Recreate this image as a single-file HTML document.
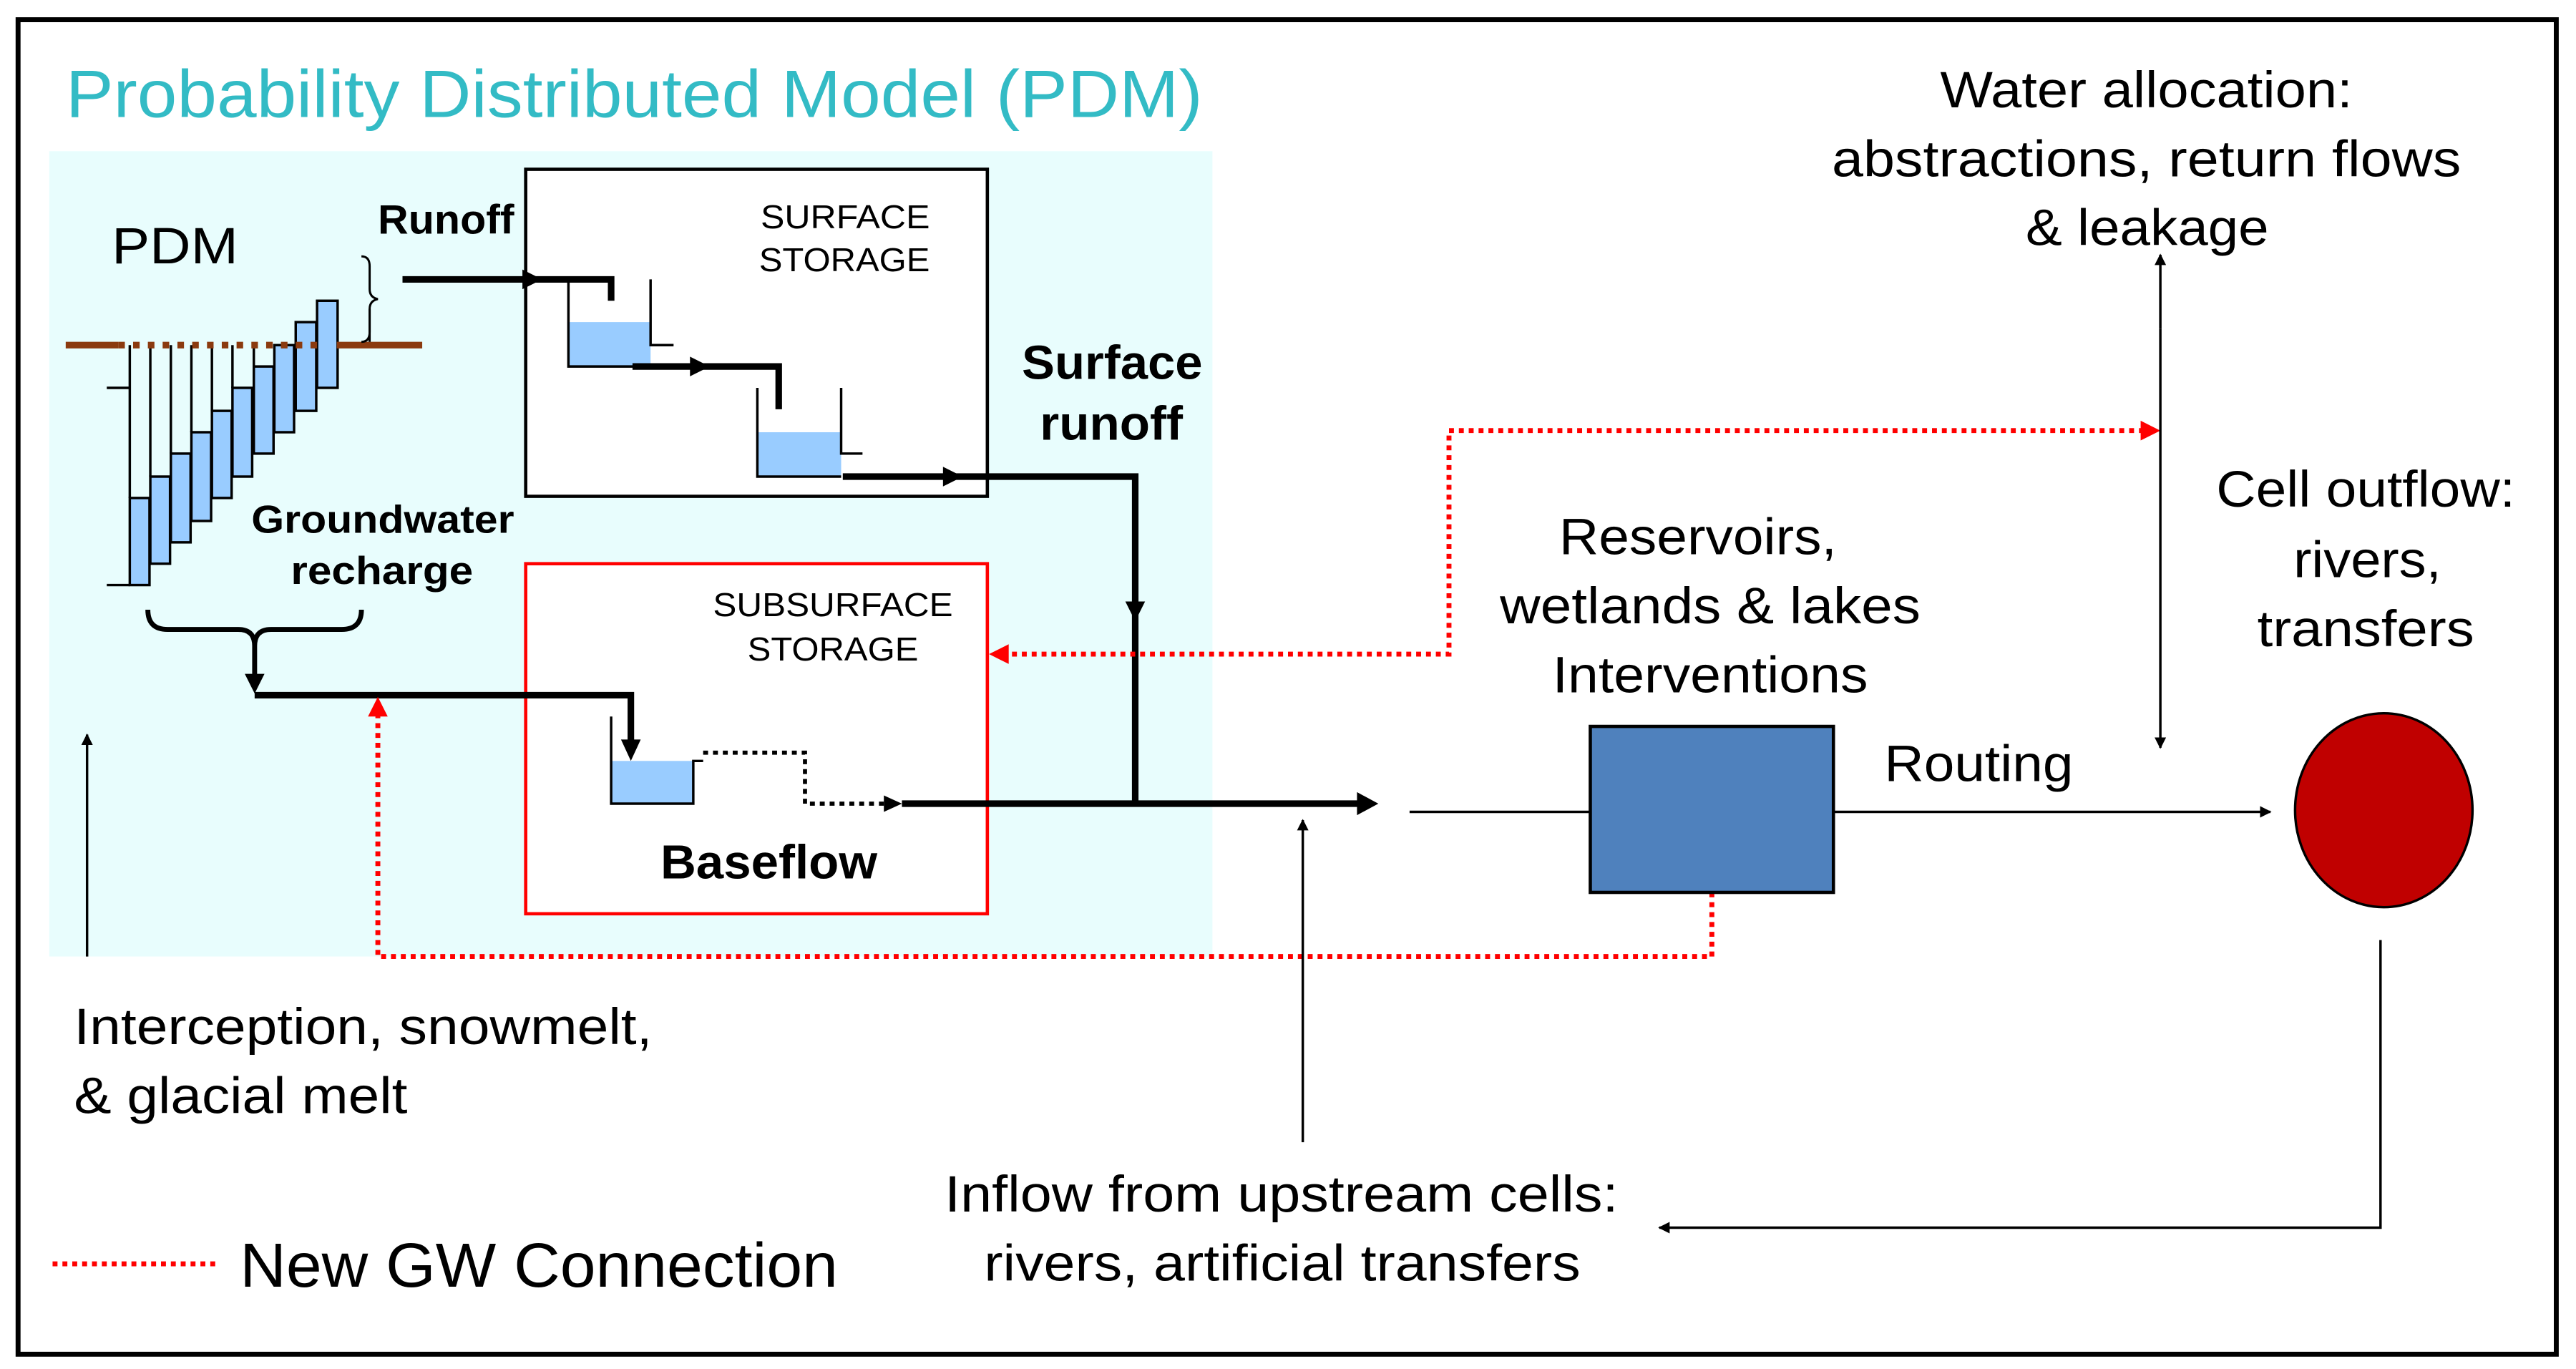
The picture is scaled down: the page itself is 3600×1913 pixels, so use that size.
<!DOCTYPE html>
<html><head><meta charset="utf-8"><style>
html,body{margin:0;padding:0;background:#fff;}
svg{display:block;}
text{font-family:"Liberation Sans",Arial,sans-serif;dominant-baseline:central;}
</style></head><body>
<svg width="3600" height="1913" viewBox="0 0 1568 833" preserveAspectRatio="none" xmlns="http://www.w3.org/2000/svg">
<defs>
<marker id="t" viewBox="0 0 10 10" refX="9" refY="5" markerWidth="9" markerHeight="7" orient="auto" markerUnits="userSpaceOnUse"><path d="M0,0L10,5L0,10z" fill="#000"/></marker>
</defs>
<rect x="0" y="0" width="1568" height="833" fill="#fff"/>
<rect x="11" y="12" width="1545" height="812" fill="#fff" stroke="#000" stroke-width="3"/>
<rect x="30" y="92" width="708" height="490" fill="#E8FDFD"/>
<text x="40" y="57" font-size="41" fill="#33BBC5" textLength="692" lengthAdjust="spacingAndGlyphs">Probability Distributed Model (PDM)</text>
<text x="68" y="150" font-size="31" fill="#000" textLength="77" lengthAdjust="spacingAndGlyphs">PDM</text>
<rect x="320" y="103" width="281" height="199" fill="#fff" stroke="#000" stroke-width="2"/>
<text x="463" y="132" font-size="20" textLength="103" lengthAdjust="spacingAndGlyphs">SURFACE</text>
<text x="462" y="158" font-size="20" textLength="104" lengthAdjust="spacingAndGlyphs">STORAGE</text>
<rect x="320" y="343" width="281" height="213" fill="#fff" stroke="#f00" stroke-width="2"/>
<text x="434" y="368" font-size="20" textLength="146" lengthAdjust="spacingAndGlyphs">SUBSURFACE</text>
<text x="455" y="395" font-size="20" textLength="104" lengthAdjust="spacingAndGlyphs">STORAGE</text>
<g fill="#99CCFF" stroke="#000" stroke-width="1.5">
<rect x="79" y="303" width="12" height="53"/>
<rect x="91.5" y="290" width="12" height="53"/>
<rect x="104" y="276" width="12" height="54"/>
<rect x="116.5" y="263" width="12" height="54"/>
<rect x="129" y="250" width="12" height="53"/>
<rect x="141.5" y="236" width="12" height="54"/>
<rect x="154.5" y="223" width="12" height="53"/>
<rect x="167" y="210" width="12" height="53"/>
<rect x="180" y="196" width="12.5" height="54"/>
<rect x="193" y="183" width="12.5" height="53"/>
</g>
<g stroke="#000" stroke-width="1.5">
<line x1="79" y1="210" x2="79" y2="303"/><line x1="91.5" y1="210" x2="91.5" y2="290"/>
<line x1="104" y1="210" x2="104" y2="276"/><line x1="116.5" y1="210" x2="116.5" y2="263"/>
<line x1="129" y1="210" x2="129" y2="250"/><line x1="141.5" y1="210" x2="141.5" y2="236"/>
<line x1="154.5" y1="210" x2="154.5" y2="223"/>
<line x1="65" y1="236" x2="79" y2="236"/><line x1="65" y1="356" x2="79" y2="356"/>
</g>
<line x1="40" y1="210" x2="72" y2="210" stroke="#8B3A0F" stroke-width="4"/>
<line x1="72" y1="210" x2="195" y2="210" stroke="#8B3A0F" stroke-width="4" stroke-dasharray="4 5"/>
<line x1="205" y1="210" x2="257" y2="210" stroke="#8B3A0F" stroke-width="4"/>
<path d="M220,156 q5,0 5,6 v14 q0,5 5,6 q-5,1 -5,6 v14 q0,6 -5,6" fill="none" stroke="#000" stroke-width="1.3"/>
<line x1="225" y1="188" x2="225" y2="208" stroke="#000" stroke-width="1.3"/>
<text x="230" y="134" font-size="25" font-weight="bold" textLength="83" lengthAdjust="spacingAndGlyphs">Runoff</text>
<path d="M245,170 H372 V183" fill="none" stroke="#000" stroke-width="4"/>
<path d="M318,164 L330,170 L318,176z"/>
<rect x="346" y="196" width="50" height="27" fill="#99CCFF"/>
<path d="M346,170 V223 H396" fill="none" stroke="#000" stroke-width="1.5"/>
<path d="M396,170 V210 H410" fill="none" stroke="#000" stroke-width="1.5"/>
<path d="M385,223 H474 V249" fill="none" stroke="#000" stroke-width="4"/>
<path d="M420,217 L432,223 L420,229z"/>
<rect x="461" y="263" width="51" height="27" fill="#99CCFF"/>
<path d="M461,236 V290 H512" fill="none" stroke="#000" stroke-width="1.5"/>
<path d="M512,236 V276 H525" fill="none" stroke="#000" stroke-width="1.5"/>
<path d="M513,290 H691 V489" fill="none" stroke="#000" stroke-width="4"/>
<path d="M574,284 L586,290 L574,296z"/>
<path d="M685,366 L691,378 L697,366z"/>
<text x="622" y="221" font-size="29" font-weight="bold" textLength="110" lengthAdjust="spacingAndGlyphs">Surface</text>
<text x="633" y="258" font-size="29" font-weight="bold" textLength="87" lengthAdjust="spacingAndGlyphs">runoff</text>
<text x="153" y="316" font-size="24" font-weight="bold" textLength="160" lengthAdjust="spacingAndGlyphs">Groundwater</text>
<text x="177" y="347" font-size="24" font-weight="bold" textLength="111" lengthAdjust="spacingAndGlyphs">recharge</text>
<path d="M90,371 q0,12 12,12 H145 q10,0 10,10 q0,-10 10,-10 H208 q12,0 12,-12" fill="none" stroke="#000" stroke-width="3"/>
<line x1="155" y1="393" x2="155" y2="412" stroke="#000" stroke-width="3"/>
<path d="M149,410 L155,422 L161,410z"/>
<path d="M155,423 H384 V455" fill="none" stroke="#000" stroke-width="4"/>
<path d="M378,450 L384,463 L390,450z"/>
<rect x="372" y="463" width="50" height="26" fill="#99CCFF"/>
<path d="M372,436 V489 H422 V463 H428" fill="none" stroke="#000" stroke-width="1.5"/>
<path d="M428,458 H490 V489 H540" fill="none" stroke="#000" stroke-width="2.5" stroke-dasharray="3 3"/>
<path d="M538,484 L549,489 L538,494z"/>
<path d="M549,489 H828" fill="none" stroke="#000" stroke-width="4"/>
<path d="M826,482 L839,489 L826,496z"/>
<text x="402" y="525" font-size="29" font-weight="bold" textLength="132" lengthAdjust="spacingAndGlyphs">Baseflow</text>
<path d="M1042,543 V582 H230 V432" fill="none" stroke="#f00" stroke-width="3" stroke-dasharray="3 3"/>
<path d="M224,436 L230,424 L236,436z" fill="#f00"/>
<path d="M1305,262 H882 V398 H612" fill="none" stroke="#f00" stroke-width="3" stroke-dasharray="3 3"/>
<path d="M1303,256 L1315,262 L1303,268z" fill="#f00"/>
<path d="M614,392 L602,398 L614,404z" fill="#f00"/>
<line x1="53" y1="582" x2="53" y2="447" stroke="#000" stroke-width="1.5" marker-end="url(#t)"/>
<text x="45" y="625" font-size="31" textLength="352" lengthAdjust="spacingAndGlyphs">Interception, snowmelt,</text>
<text x="45" y="667" font-size="31" textLength="203" lengthAdjust="spacingAndGlyphs">&amp; glacial melt</text>
<line x1="32" y1="769" x2="133" y2="769" stroke="#f00" stroke-width="3" stroke-dasharray="3 3"/>
<text x="146" y="770" font-size="38" textLength="364" lengthAdjust="spacingAndGlyphs">New GW Connection</text>
<line x1="793" y1="695" x2="793" y2="499" stroke="#000" stroke-width="1.5" marker-end="url(#t)"/>
<text x="575" y="727" font-size="31" textLength="410" lengthAdjust="spacingAndGlyphs">Inflow from upstream cells:</text>
<text x="599" y="769" font-size="31" textLength="363" lengthAdjust="spacingAndGlyphs">rivers, artificial transfers</text>
<line x1="858" y1="494" x2="968" y2="494" stroke="#000" stroke-width="1.5"/>
<rect x="968" y="442" width="148" height="101" fill="#4F81BD" stroke="#000" stroke-width="2"/>
<line x1="1116" y1="494" x2="1382" y2="494" stroke="#000" stroke-width="1.5" marker-end="url(#t)"/>
<text x="1147" y="465" font-size="31" textLength="115" lengthAdjust="spacingAndGlyphs">Routing</text>
<text x="949" y="327" font-size="31" textLength="169" lengthAdjust="spacingAndGlyphs">Reservoirs,</text>
<text x="913" y="369" font-size="31" textLength="256" lengthAdjust="spacingAndGlyphs">wetlands &amp; lakes</text>
<text x="945" y="411" font-size="31" textLength="192" lengthAdjust="spacingAndGlyphs">Interventions</text>
<ellipse cx="1451" cy="493" rx="54" ry="59" fill="#C00000" stroke="#000" stroke-width="1.5"/>
<line x1="1315" y1="200" x2="1315" y2="455" stroke="#000" stroke-width="1.5" marker-end="url(#t)"/>
<line x1="1315" y1="200" x2="1315" y2="155" stroke="#000" stroke-width="1.5" marker-end="url(#t)"/>
<text x="1181" y="55" font-size="31" textLength="251" lengthAdjust="spacingAndGlyphs">Water allocation:</text>
<text x="1115" y="97" font-size="31" textLength="383" lengthAdjust="spacingAndGlyphs">abstractions, return flows</text>
<text x="1233" y="139" font-size="31" textLength="148" lengthAdjust="spacingAndGlyphs">&amp; leakage</text>
<text x="1349" y="298" font-size="31" textLength="182" lengthAdjust="spacingAndGlyphs">Cell outflow:</text>
<text x="1396" y="341" font-size="31" textLength="90" lengthAdjust="spacingAndGlyphs">rivers,</text>
<text x="1374" y="383" font-size="31" textLength="132" lengthAdjust="spacingAndGlyphs">transfers</text>
<path d="M1449,572 V747 H1010" fill="none" stroke="#000" stroke-width="1.5" marker-end="url(#t)"/>
</svg>
</body></html>
